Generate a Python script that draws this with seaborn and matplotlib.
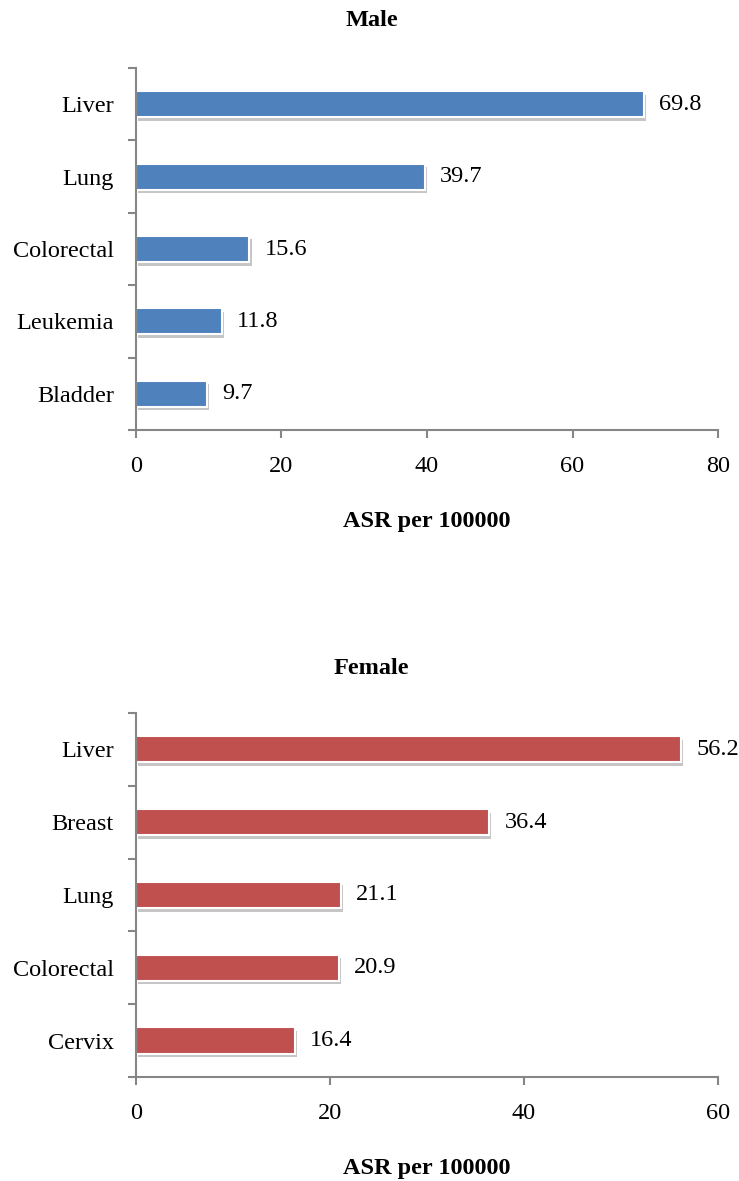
import matplotlib
matplotlib.use("Agg")
import matplotlib.pyplot as plt
import matplotlib.patheffects as pe
import seaborn as sns

male_sites = ["Liver", "Lung", "Colorectal", "Leukemia", "Bladder"]
male_asr = [69.8, 39.7, 15.6, 11.8, 9.7]
female_sites = ["Liver", "Breast", "Lung", "Colorectal", "Cervix"]
female_asr = [56.2, 36.4, 21.1, 20.9, 16.4]

sns.set_style("white")
plt.rcParams["font.family"] = ["Liberation Serif", "DejaVu Serif"]
plt.rcParams["text.color"] = "black"
plt.rcParams["xtick.labelcolor"] = "black"
plt.rcParams["ytick.labelcolor"] = "black"
plt.rcParams["axes.labelcolor"] = "black"

fig = plt.figure(figsize=(7.39, 11.81), dpi=100)
ax1 = fig.add_axes([0.184, 0.6359, 0.7876, 0.3065])
ax2 = fig.add_axes([0.184, 0.0881, 0.7876, 0.3082])

FS = 17.5


def draw(ax, sites, vals, color, xmax):
    sns.barplot(x=vals, y=sites, orient="h", color=color, width=0.36,
                edgecolor="white", linewidth=1.5, saturation=1, ax=ax)
    for p in ax.patches:
        p.set_path_effects([pe.SimplePatchShadow(offset=(1.5, -2.5), shadow_rgbFace="gray", alpha=0.45),
                            pe.Normal()])
    ax.bar_label(ax.containers[0], fmt="%.1f", padding=11, fontsize=FS, color="black")
    ax.set_xlim(0, xmax)
    ax.set_ylim(len(sites) - 0.5, -0.5)
    ax.set_xticks(range(0, xmax + 1, 20))
    ax.set_yticks([i - 0.5 for i in range(len(sites) + 1)], minor=True)
    ax.tick_params(axis="y", which="major", length=0, labelsize=FS, pad=16)
    ax.tick_params(axis="y", which="minor", length=6, width=1.5, color="#868686", left=True)
    ax.tick_params(axis="x", length=6, width=1.5, color="#868686", labelsize=FS, pad=13, bottom=True)
    for s in ["top", "right"]:
        ax.spines[s].set_visible(False)
    for s in ["left", "bottom"]:
        ax.spines[s].set_color("#868686")
        ax.spines[s].set_linewidth(1.5)
    ax.set_xlabel("ASR per 100000", fontsize=FS, fontweight="bold", labelpad=24, color="black")
    ax.set_ylabel("")


draw(ax1, male_sites, male_asr, "#4F81BD", 80)
draw(ax2, female_sites, female_asr, "#C0504D", 60)

fig.text(0.503, 1 - 20 / 1181, "Male", ha="center", va="center", fontsize=FS, fontweight="bold")
fig.text(0.503, 1 - 668 / 1181, "Female", ha="center", va="center", fontsize=FS, fontweight="bold")

fig.savefig("out.png", dpi=100)
